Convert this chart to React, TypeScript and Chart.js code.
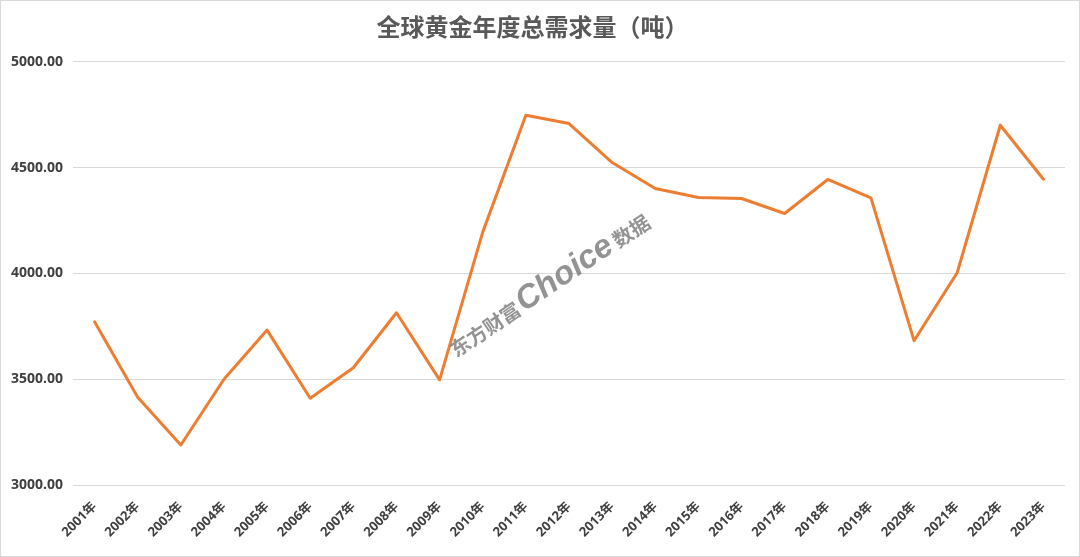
import React, { useEffect, useRef } from "react";
import { Chart, registerables } from "chart.js";

Chart.register(...registerables);

const years: string[] = [
  "2001年", "2002年", "2003年", "2004年", "2005年", "2006年", "2007年", "2008年",
  "2009年", "2010年", "2011年", "2012年", "2013年", "2014年", "2015年", "2016年",
  "2017年", "2018年", "2019年", "2020年", "2021年", "2022年", "2023年",
];

const demand: number[] = [
  3771, 3415, 3189, 3500, 3732, 3410, 3554, 3814, 3497, 4195, 4747, 4708,
  4524, 4401, 4359, 4354, 4283, 4444, 4357, 3682, 4003, 4700, 4445,
];

const titleText = "全球黄金年度总需求量（吨）";
const yMin = 3000;
const yMax = 5000;
const yStep = 500;

const frameAndWatermark = {
  id: "frameAndWatermark",
  afterDraw(chart: any) {
    const ctx = chart.ctx as CanvasRenderingContext2D;
    ctx.save();
    const parts = [
      { t: "东方财富", f: "bold 20px 'Noto Sans CJK SC'", gap: 2 },
      { t: "Choice", f: "italic bold 33px 'Liberation Sans'", gap: 4 },
      { t: "数据", f: "bold 20px 'Noto Sans CJK SC'", gap: 0 },
    ];
    let total = 0;
    const widths = parts.map((p) => {
      ctx.font = p.f;
      const w = ctx.measureText(p.t).width + p.gap;
      total += w;
      return w;
    });
    ctx.translate(548, 283);
    ctx.rotate((-34 * Math.PI) / 180);
    ctx.fillStyle = "rgba(128,128,128,0.85)";
    ctx.textBaseline = "alphabetic";
    ctx.textAlign = "left";
    let x = -total / 2;
    parts.forEach((p, i) => {
      ctx.font = p.f;
      ctx.fillText(p.t, x, 11);
      x += widths[i];
    });
    ctx.restore();
    ctx.save();
    ctx.strokeStyle = "#d9d9d9";
    ctx.lineWidth = 1;
    ctx.strokeRect(0.5, 0.5, chart.width - 1, chart.height - 1);
    ctx.restore();
  },
};

export default function App() {
  const ref = useRef<HTMLCanvasElement | null>(null);
  useEffect(() => {
    if (!ref.current) return;
    const chart = new Chart(ref.current, {
      type: "line",
      data: {
        labels: years,
        datasets: [
          {
            label: "总需求量",
            data: demand,
            borderColor: "#ED7D31",
            backgroundColor: "#ED7D31",
            borderWidth: 3,
            pointRadius: 0,
            tension: 0,
            borderJoinStyle: "round",
            borderCapStyle: "round",
          },
        ],
      },
      options: {
        responsive: false,
        animation: false,
        layout: { padding: { left: 0, right: 15, top: 0, bottom: 0 } },
        plugins: {
          legend: { display: false },
          tooltip: { enabled: false },
          title: {
            display: true,
            text: titleText,
            color: "#595959",
            font: { family: "'Noto Sans CJK SC'", size: 24, weight: "bold" },
            padding: { top: 12, bottom: 21 },
          },
        },
        scales: {
          x: {
            offset: true,
            grid: { display: false, offset: true },
            border: { display: false },
            ticks: {
              autoSkip: false,
              maxRotation: 45,
              minRotation: 45,
              padding: 6,
              color: "#404040",
              font: { family: "'Open Sans', 'Noto Sans CJK SC'", size: 13, weight: "bold" },
            },
            afterFit: (s: any) => {
              s.height = 72;
            },
          },
          y: {
            min: yMin,
            max: yMax,
            grid: { color: "#d9d9d9", lineWidth: 1, drawTicks: false },
            border: { display: false },
            ticks: {
              stepSize: yStep,
              padding: 10,
              color: "#404040",
              font: { family: "'Open Sans'", size: 14, weight: "bold" },
              callback: (v: any) => Number(v).toFixed(2),
            },
            afterFit: (s: any) => {
              s.width = 73;
            },
          },
        },
      },
      plugins: [frameAndWatermark],
    });
    return () => chart.destroy();
  }, []);
  return (
    <div style={{ position: "fixed", left: 0, top: 0, width: 1080, height: 557, background: "#fff" }}>
      <canvas ref={ref} width={1080} height={557} />
    </div>
  );
}
